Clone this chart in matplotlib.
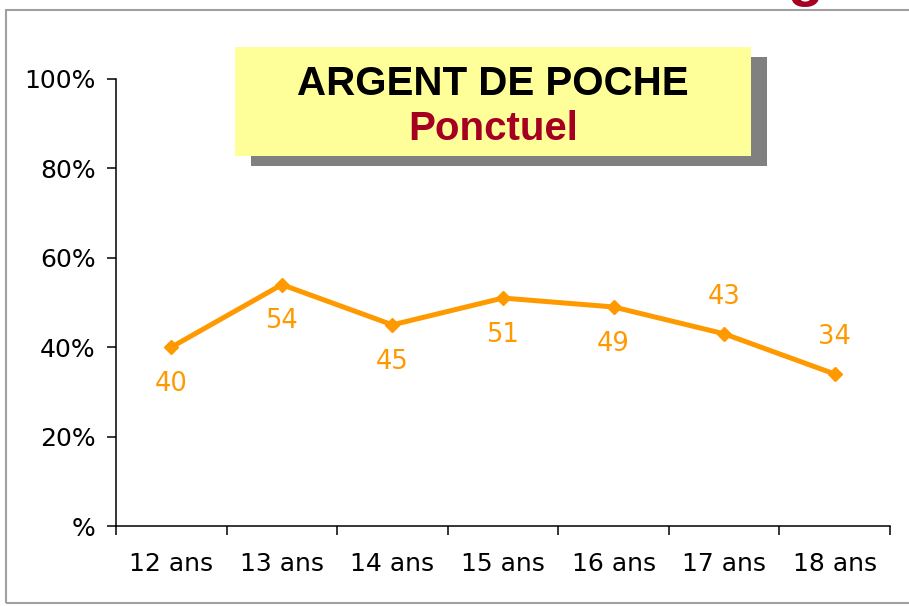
import matplotlib
matplotlib.use("Agg")
import matplotlib.pyplot as plt
from matplotlib.patches import Rectangle

categories = ["12 ans", "13 ans", "14 ans", "15 ans", "16 ans", "17 ans", "18 ans"]
values = [40, 54, 45, 51, 49, 43, 34]
label_above = [False, False, False, False, False, True, True]
ytick_vals = [0, 20, 40, 60, 80, 100]
ytick_labels = ["%", "20%", "40%", "60%", "80%", "100%"]
title_main = "ARGENT DE POCHE"
title_sub = "Ponctuel"

W, H = 909, 606
fig = plt.figure(figsize=(W / 100, H / 100), dpi=100)
fig.patch.set_facecolor("white")

def fx(px):
    return px / W

def fy(py):
    return 1 - py / H

# outer border
fig.add_artist(Rectangle((fx(6), fy(603)), fx(915) - fx(6), fy(10) - fy(603),
                         transform=fig.transFigure, fill=False,
                         edgecolor="#A0A0A0", linewidth=1.5))
# partial letter from cropped heading above
fig.text(fx(805), fy(-5), "g", color="#A50021", fontsize=42,
         family="Liberation Sans", fontweight="bold", ha="center", va="baseline")

ax = fig.add_axes([fx(116), fy(526), fx(890) - fx(116), fy(79) - fy(526)])
x = list(range(len(categories)))
ax.plot(x, values, color="#FF9900", linewidth=3.6, marker="D", markersize=7,
        markerfacecolor="#FF9900", markeredgecolor="#FF9900", solid_joinstyle="miter")

for xi, v, up in zip(x, values, label_above):
    ax.annotate(str(v), (xi, v), xytext=(0, 26.5 if up else -26.5),
                textcoords="offset points", ha="center", va="center",
                color="#FF9900", fontsize=18.5, family="DejaVu Sans")

ax.set_xlim(-0.5, len(categories) - 0.5)
ax.set_ylim(0, 100)
ax.set_yticks(ytick_vals)
ax.set_yticklabels(ytick_labels)
ax.set_xticks(x)
ax.set_xticklabels(categories)
ax.set_xticks([i - 0.5 for i in range(len(categories) + 1)], minor=True)
ax.tick_params(axis="x", which="major", length=0, pad=18.5, labelsize=18)
ax.tick_params(axis="x", which="minor", length=6.5, width=1.1, direction="out")
ax.tick_params(axis="y", which="major", length=6.5, width=1.1, direction="out",
               pad=8, labelsize=18)
for lab in ax.get_xticklabels() + ax.get_yticklabels():
    lab.set_family("DejaVu Sans")
for s in ["top", "right"]:
    ax.spines[s].set_visible(False)
for s in ["left", "bottom"]:
    ax.spines[s].set_linewidth(1.1)
ax.set_facecolor("none")

# title box with shadow
fig.add_artist(Rectangle((fx(251), fy(166)), fx(767) - fx(251), fy(57) - fy(166),
                         transform=fig.transFigure, facecolor="#808080",
                         edgecolor="none", zorder=5))
fig.add_artist(Rectangle((fx(235), fy(156)), fx(751) - fx(235), fy(47) - fy(156),
                         transform=fig.transFigure, facecolor="#FFFF99",
                         edgecolor="none", zorder=6))
fig.text(fx(493), fy(95), title_main, color="black", fontsize=29,
         family="Liberation Sans", fontweight="bold", ha="center", va="baseline", zorder=7)
fig.text(fx(493), fy(140), title_sub, color="#A50021", fontsize=29,
         family="Liberation Sans", fontweight="bold", ha="center", va="baseline", zorder=7)

fig.savefig("out.png", dpi=100)
